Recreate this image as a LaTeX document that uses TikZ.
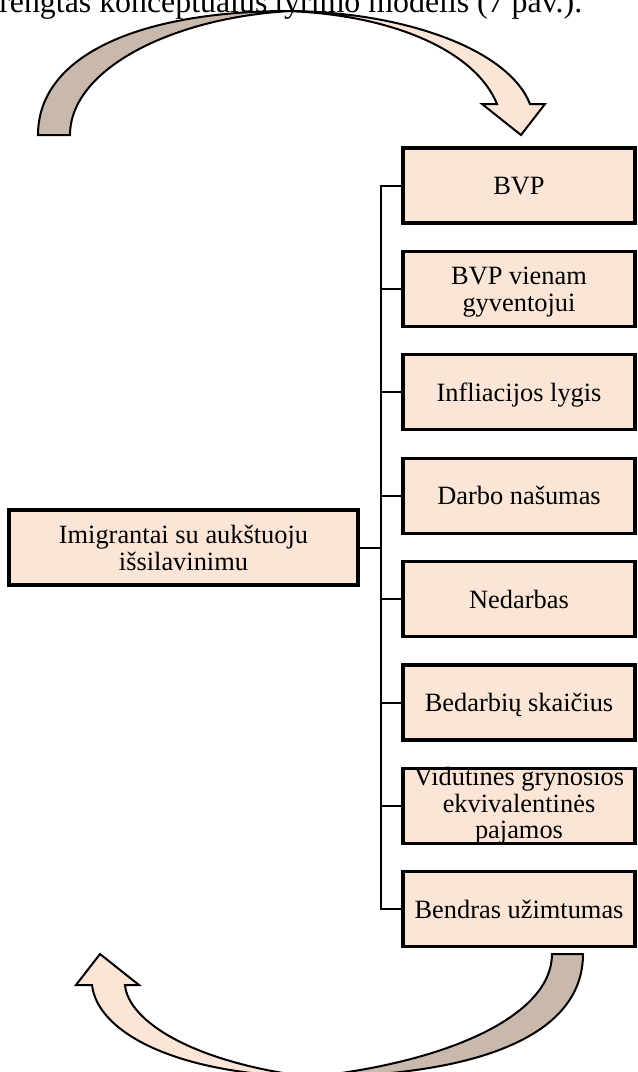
\documentclass[tikz,border=0pt]{standalone}
\usepackage{fontspec}
\setmainfont{Liberation Serif}
\definecolor{peach}{RGB}{251,229,214}
\definecolor{mocha}{RGB}{201,185,172}
\tikzset{
  fact/.style={draw, line width=2.5pt, fill=peach, minimum width=174pt, minimum height=56.25pt,
    inner sep=0pt, align=center, text depth=0pt, font=\fontsize{19.8}{20.2}\selectfont},
  tie/.style={line width=1.5pt},
  band/.style={draw, line width=1.5pt},
}

\begin{document}
\begin{tikzpicture}[x=0.75pt,y=-0.75pt]
	\useasboundingbox (0,0) rectangle (637,1072);
	\clip (0,0) rectangle (637,1072);
	
	% caption line, cut at the top
	\node[anchor=base west, inner sep=0pt, font=\fontsize{23.9}{28}\selectfont] (cap) at (-1,12) {rengtas konceptualus tyrimo modelis (7 pav.).};
	
	% upper curved arrow
	\filldraw[band, fill=mocha] (38,135) -- (70,135) .. controls (70,70) and (170,18) .. (290,11)
		.. controls (140,11) and (38,55) .. (38,135) -- cycle;
	\filldraw[band, fill=peach] (285,11) .. controls (400,11) and (508,48) .. (530,104) -- (545,104) -- (521,135)
		-- (482,104) -- (497,104) .. controls (475,50) and (390,14) .. (285,11) -- cycle;
	
	% lower curved arrow
	\filldraw[band, fill=mocha] (552,954) -- (583,954) .. controls (583,1035) and (480,1076) .. (310,1077)
		.. controls (450,1062) and (552,1015) .. (552,954) -- cycle;
	\filldraw[band, fill=peach] (310,1077) .. controls (170,1074) and (97,1030) .. (92,985) -- (76,985) -- (100,954)
		-- (139,985) -- (125,985) .. controls (128,1020) and (190,1062) .. (310,1077) -- cycle;
	
	\node[fact, minimum width=261.75pt] (src) at (183.5,547.5) {Imigrantai su aukštuoju\\išsilavinimu};
	
	\node[fact] (b1) at (519,185.5) {BVP};
	\node[fact] (b2) at (519,288.9) {BVP vienam\\gyventojui};
	\node[fact] (b3) at (519,392.3) {Infliacijos lygis};
	\node[fact] (b4) at (519,495.7) {Darbo našumas};
	\node[fact] (b5) at (519,599.1) {Nedarbas};
	\node[fact] (b6) at (519,702.5) {Bedarbių skaičius};
	\node[fact] (b7) at (519,805.9) {};
	\node[align=center, inner sep=0pt, font=\fontsize{19.8}{19.9}\selectfont] (t7) at (b7) {Vidutinės grynosios\\ekvivalentinės\\pajamos};
	\node[fact] (b8) at (519,909.3) {Bendras užimtumas};
	
	\coordinate (hub) at (381,547.5);
	\draw[tie] (src.east) -- (hub);
	\foreach \i in {1,...,8} \draw[tie] (b\i.west) -| (hub);
\end{tikzpicture}
\end{document}
